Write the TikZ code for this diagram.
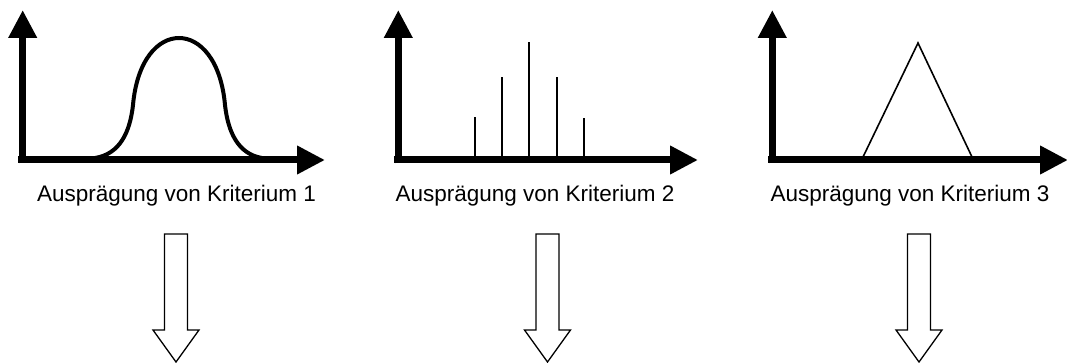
\documentclass[tikz,border=0pt]{standalone}
\usepackage{fontspec}
\setmainfont{Liberation Sans}
\usetikzlibrary{arrows.meta,positioning}

\begin{document}
\begin{tikzpicture}[x=1pt, y=-1pt,
  axis/.style={line width=7pt, -{Triangle[length=28pt,width=27pt]}},
  curve/.style={line width=4pt, line cap=round},
  spike/.style={line width=1.6pt},
  hollow/.style={line width=1.3pt, line join=miter},
  axislabel/.style={font=\fontsize{22.5}{27}\selectfont, anchor=base}
]
\useasboundingbox (0,0) rectangle (1067,363);

% Kriterium 1: Glockenkurve
\draw[axis] (22.7,163.5) -- (22.7,10);
\draw[axis] (18,160) -- (325,160);
\draw[curve] (95,158) .. controls (120,154) and (130,132) .. (133,105)
  .. controls (137,60) and (158,38) .. (179,38)
  .. controls (200,38) and (221,60) .. (225,105)
  .. controls (228,132) and (238,154) .. (262,158);
\node[axislabel] (lab1) at (176.5,202) {Ausprägung von Kriterium 1};

% Kriterium 2: diskrete Werte
\draw[axis] (398.3,163.5) -- (398.3,10);
\draw[axis] (394,160) -- (698,160);
\foreach \x/\top in {475/117, 502/77, 529/42, 557/77, 584/118}
  \draw[spike] (\x,157) -- (\x,\top);
\node[axislabel] (lab2) at (535,202) {Ausprägung von Kriterium 2};

% Kriterium 3: Dreieck
\draw[axis] (772.3,163.5) -- (772.3,10);
\draw[axis] (768,160) -- (1068,160);
\draw[spike, line join=miter] (863,157) -- (918,43) -- (972,157);
\node[axislabel] (lab3) at (910,202) {Ausprägung von Kriterium 3};

% Blockpfeile
\foreach \c in {176,547.5,919}
  \draw[hollow] (\c-11.5,234) -- (\c+11.5,234) -- (\c+11.5,330) -- (\c+23,330)
    -- (\c,362) -- (\c-23,330) -- (\c-11.5,330) -- cycle;

\end{tikzpicture}
\end{document}
